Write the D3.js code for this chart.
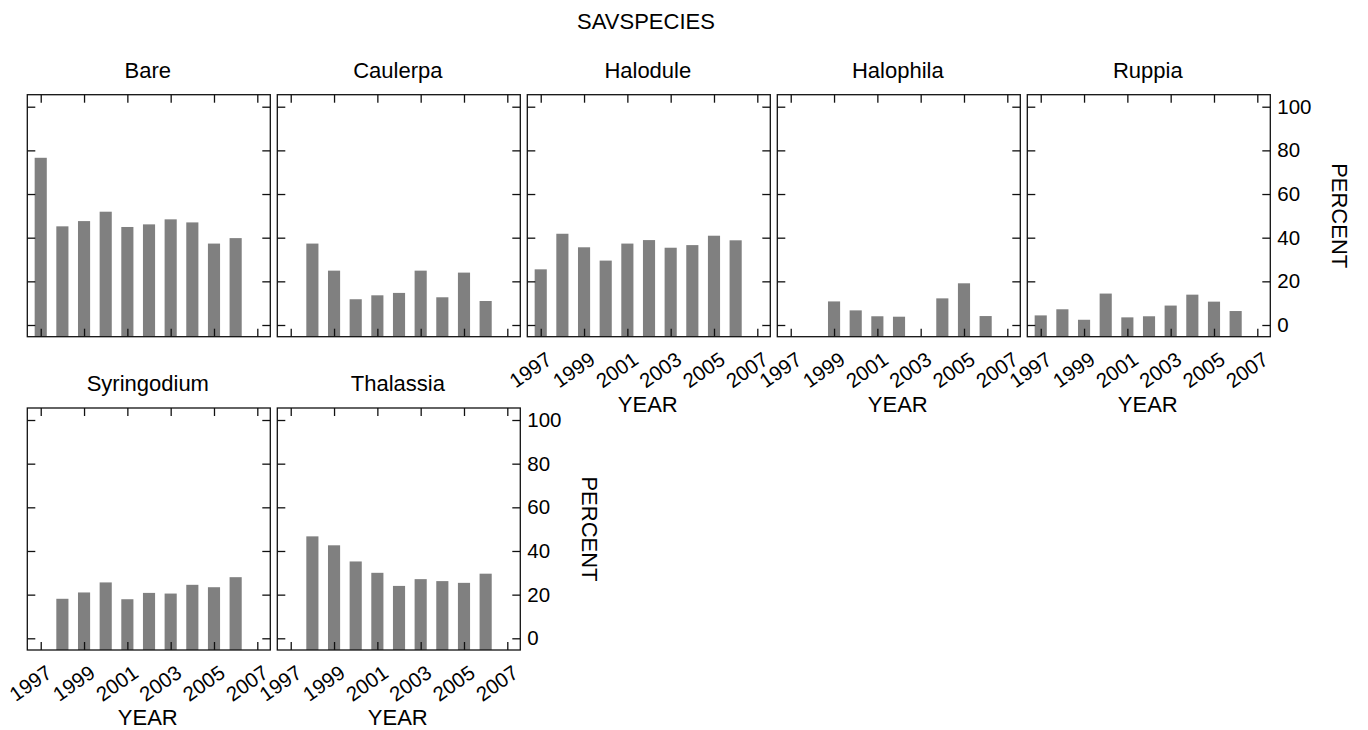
<!DOCTYPE html>
<html>
<head>
<meta charset="utf-8">
<script src="https://cdn.jsdelivr.net/npm/d3@7"></script>
<style>
  html, body { margin: 0; padding: 0; background: #fff; }
  svg text { font-family: "Liberation Sans", Arial, Helvetica, sans-serif; fill: #000; }
</style>
</head>
<body>
<svg id="chart" width="1368" height="730"></svg>
<script>
// Percent cover of each SAV class by survey year (null = no record that year)
const years = [1997, 1998, 1999, 2000, 2001, 2002, 2003, 2004, 2005, 2006];
const species = ["Bare", "Caulerpa", "Halodule", "Halophila", "Ruppia", "Syringodium", "Thalassia"];
const bare        = [76.6, 45.2, 47.6, 51.9, 44.9, 46.1, 48.4, 47.0, 37.3, 39.8];
const caulerpa    = [null, 37.3, 24.9, 11.8, 13.6, 14.7, 24.9, 12.7, 24.0, 11.0];
const halodule    = [25.5, 41.8, 35.6, 29.5, 37.3, 38.9, 35.4, 36.6, 40.9, 38.8];
const halophila   = [null, null, 10.8, 6.7, 4.0, 3.8, null, 12.2, 19.1, 4.1];
const ruppia      = [4.4, 7.2, 2.4, 14.4, 3.5, 4.0, 8.9, 13.9, 10.7, 6.4];
const syringodium = [null, 18.1, 21.0, 25.6, 17.9, 20.8, 20.5, 24.5, 23.4, 28.0];
const thalassia   = [null, 46.7, 42.6, 35.2, 30.0, 24.0, 27.1, 26.2, 25.4, 29.6];
const yearTicks = [1997, 1999, 2001, 2003, 2005, 2007];
const percentTicks = [0, 20, 40, 60, 80, 100];

const seriesBySpecies = [bare, caulerpa, halodule, halophila, ruppia, syringodium, thalassia];

const svg = d3.select("#chart");
const FONT = 22, TICKFONT = 20.5;

// facet geometry
const panelW = 243, panelH = 242;
const left0 = 27.3, top0 = 94.7;
const colStep = 250, rowStep = 313.3;
const nCols = 5;

const x = d3.scaleLinear().domain([1996.38, 2007.6]).range([0, panelW]);
const y = d3.scaleLinear().domain([-5.36, 105.5]).range([panelH, 0]);
const barW = x(1997.56) - x(1997);

svg.append("text")
  .attr("x", 646).attr("y", 29)
  .attr("text-anchor", "middle")
  .attr("font-size", FONT)
  .text("SAVSPECIES");

species.forEach((name, i) => {
  const col = i % nCols, row = Math.floor(i / nCols);
  const lastInRow = (row === 0 && col === nCols - 1) || (row === 1 && i === species.length - 1);
  // x labels on panels with nothing below them
  const showX = row === 1 || col >= species.length - nCols;
  const g = svg.append("g")
    .attr("transform", `translate(${left0 + col * colStep},${top0 + row * rowStep})`);

  g.append("text")
    .attr("x", panelW / 2 - 1).attr("y", -17)
    .attr("text-anchor", "middle")
    .attr("font-size", FONT)
    .text(name);

  const data = years.map((yr, k) => ({ yr, v: seriesBySpecies[i][k] })).filter(d => d.v != null);
  g.selectAll("rect.bar").data(data).enter().append("rect")
    .attr("class", "bar")
    .attr("x", d => x(d.yr) - barW / 2)
    .attr("width", barW)
    .attr("y", d => y(d.v))
    .attr("height", d => y.range()[0] - y(d.v))
    .attr("fill", "#808080");

  const styleAxis = sel => {
    sel.select(".domain").remove();
    sel.selectAll(".tick line").attr("stroke", "#111").attr("stroke-width", 1.3);
  };

  // inward ticks on all four sides
  g.append("g").call(d3.axisLeft(y).tickValues(percentTicks).tickSize(-8).tickFormat(""))
    .call(styleAxis);
  g.append("g").attr("transform", `translate(${panelW},0)`)
    .call(d3.axisRight(y).tickValues(percentTicks).tickSize(-8).tickPadding(7)
      .tickFormat(lastInRow ? d3.format("d") : ""))
    .call(styleAxis)
    .call(a => a.selectAll("text").attr("font-size", TICKFONT).attr("fill", "#000"));
  g.append("g").call(d3.axisTop(x).tickValues(yearTicks).tickSize(-8).tickFormat(""))
    .call(styleAxis);
  const xb = g.append("g").attr("transform", `translate(0,${panelH})`)
    .call(d3.axisBottom(x).tickValues(yearTicks).tickSize(-8).tickFormat(showX ? d3.format("d") : ""))
    .call(styleAxis);
  xb.selectAll("text")
    .attr("font-size", TICKFONT)
    .attr("fill", "#000")
    .attr("text-anchor", "end")
    .attr("y", null).attr("dy", null)
    .attr("transform", "translate(12,26) rotate(-35)");

  g.append("rect")
    .attr("width", panelW).attr("height", panelH)
    .attr("fill", "none").attr("stroke", "#111").attr("stroke-width", 1.3);

  if (showX) {
    g.append("text")
      .attr("x", panelW / 2 - 1).attr("y", panelH + 75)
      .attr("text-anchor", "middle")
      .attr("font-size", FONT)
      .text("YEAR");
  }
  if (lastInRow) {
    g.append("text")
      .attr("transform", `translate(${panelW + 62},${panelH / 2}) rotate(90)`)
      .attr("text-anchor", "middle")
      .attr("font-size", FONT)
      .text("PERCENT");
  }
});
</script>
</body>
</html>
